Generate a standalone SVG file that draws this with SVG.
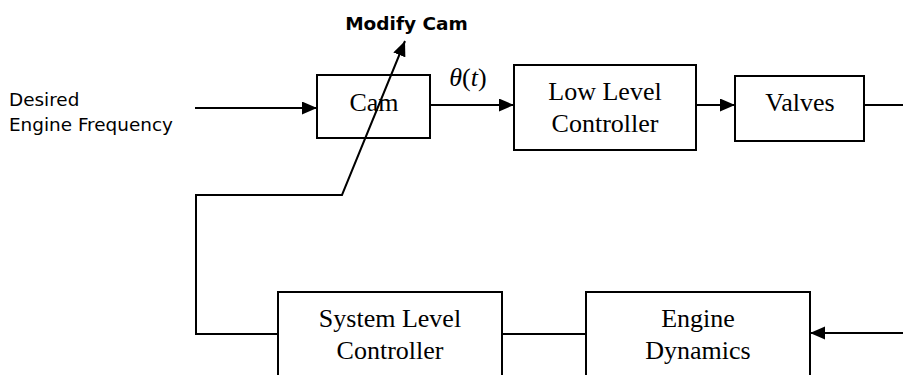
<svg xmlns="http://www.w3.org/2000/svg" width="903" height="375" viewBox="0 0 903 375">
<style>
.box{fill:#fff;stroke:#000;stroke-width:2}
.ln{fill:none;stroke:#000;stroke-width:2}
.serif{font-family:"Liberation Serif","Times New Roman",serif;font-size:26px;fill:#000;text-anchor:middle}
.sans{font-family:"DejaVu Sans",Verdana,sans-serif;font-size:18.4px;fill:#000}
.bold{font-family:"DejaVu Sans",Verdana,sans-serif;font-size:18.5px;font-weight:bold;fill:#000;text-anchor:middle}
</style>
<defs>
<marker id="ah" markerUnits="userSpaceOnUse" markerWidth="16" markerHeight="14" refX="15" refY="6.5" orient="auto">
<path d="M0,0 L15,6.5 L0,13 z" fill="#000"/>
</marker>
</defs>
<g id="cam">
<rect class="box" x="317" y="75" width="113" height="63"/>
<text class="serif" x="374" y="111">Cam</text>
</g>
<g id="low-level-controller">
<rect class="box" x="514" y="65" width="182" height="85"/>
<text class="serif" x="605" y="100">Low Level</text>
<text class="serif" x="605" y="132">Controller</text>
</g>
<g id="valves">
<rect class="box" x="735" y="76" width="129" height="65"/>
<text class="serif" x="800" y="111">Valves</text>
</g>
<g id="system-level-controller">
<rect class="box" x="278" y="292" width="224" height="100"/>
<text class="serif" x="390" y="327">System Level</text>
<text class="serif" x="390" y="359">Controller</text>
</g>
<g id="engine-dynamics">
<rect class="box" x="586" y="292" width="224" height="100"/>
<text class="serif" x="698" y="327">Engine</text>
<text class="serif" x="698" y="359">Dynamics</text>
</g>
<g id="labels">
<text class="sans" x="9" y="106">Desired</text>
<text class="sans" x="9" y="131">Engine Frequency</text>
<text class="bold" x="406.5" y="29.5">Modify Cam</text>
<text class="serif" x="468" y="86"><tspan font-style="italic">θ</tspan>(<tspan font-style="italic">t</tspan>)</text>
</g>
<g id="connectors">
<line class="ln" x1="195" y1="108" x2="317" y2="108" marker-end="url(#ah)"/>
<line class="ln" x1="430" y1="105" x2="514" y2="105" marker-end="url(#ah)"/>
<line class="ln" x1="696" y1="105" x2="735" y2="105" marker-end="url(#ah)"/>
<line class="ln" x1="864" y1="105" x2="903" y2="105"/>
<line class="ln" x1="903" y1="333" x2="810" y2="333" marker-end="url(#ah)"/>
<line class="ln" x1="502" y1="334" x2="586" y2="334"/>
<polyline class="ln" points="278,334 196,334 196,195 342,195 405,41" marker-end="url(#ah)"/>
</g>
</svg>
